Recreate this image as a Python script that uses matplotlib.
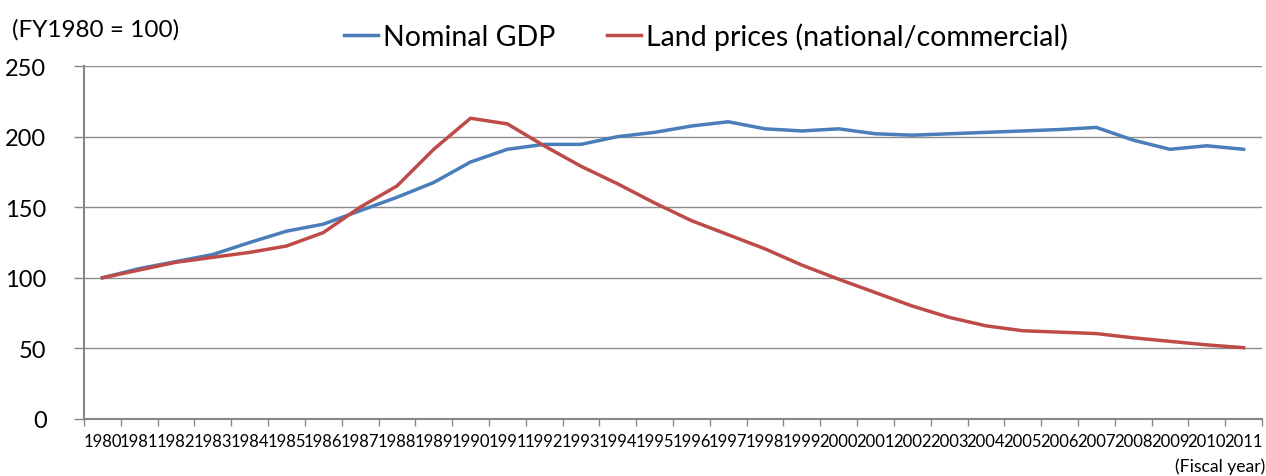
import numpy as np
import matplotlib
matplotlib.use('Agg')
import matplotlib.pyplot as plt
from matplotlib.ticker import FixedLocator

plt.rcParams['font.family'] = ['Lato', 'DejaVu Sans']

years = [str(y) for y in range(1980, 2012)]
gdp = [100, 106.5, 111.5, 116.5, 125, 133, 138, 147.5, 157, 167.5, 182, 191, 194.5, 194.5,
       200, 203, 207.5, 210.5, 205.5, 204, 205.5, 202, 201, 202, 203, 204, 205, 206.5,
       197.5, 191, 193.5, 191]
land = [100, 105.5, 111, 114.5, 118, 122.5, 132, 150, 165, 191, 213, 209, 193.5, 179,
        166.5, 153, 140.5, 130.5, 120.5, 109, 99, 89.5, 80, 72, 66, 62.5, 61.5, 60.5,
        57.5, 55, 52.5, 50.5]
yticks = [0, 50, 100, 150, 200, 250]

W, H = 1266, 477
fig = plt.figure(figsize=(W / 100, H / 100), dpi=100)
ax = fig.add_axes([84 / W, 57 / H, (1262 - 84) / W, 353 / H])

x = np.arange(len(years))
ax.plot(x, gdp, color='#4A7EBB', lw=2.5, label='Nominal GDP', solid_joinstyle='round')
ax.plot(x, land, color='#BE4B48', lw=2.5, label='Land prices (national/commercial)',
        solid_joinstyle='round')

ax.set_xlim(-0.5, len(years) - 0.5)
ax.set_ylim(0, 250)
ax.set_yticks(yticks)
ax.set_xticks(x)
ax.set_xticklabels(years, fontsize=12)
ax.xaxis.set_minor_locator(FixedLocator(np.arange(-0.5, len(years), 1.0)))
ax.tick_params(axis='x', which='major', length=0, pad=10)
ax.tick_params(axis='x', which='minor', length=5, color='#868686', width=1)
ax.tick_params(axis='y', length=7, color='#868686', width=1, labelsize=17, pad=20)

ax.grid(axis='y', color='#8C8C8C', lw=1)
ax.set_axisbelow(True)
for s in ['top', 'right']:
    ax.spines[s].set_visible(False)
for s in ['left', 'bottom']:
    ax.spines[s].set_color('#868686')
    ax.spines[s].set_linewidth(1.5)

fig.text(12 / W, 1 - 30 / H, '(FY1980 = 100)', fontsize=17.5, va='center', ha='left')
fig.text(1265 / W, 1 - 467 / H, '(Fiscal year)', fontsize=12.6, va='center', ha='right')

fig.legend(loc='center', bbox_to_anchor=(706 / W, 1 - 37 / H), ncol=2, frameon=False,
           fontsize=20.5, handlelength=1.2, handletextpad=0.18, columnspacing=1.8,
           borderpad=0, borderaxespad=0)

fig.savefig('out.png', dpi=100)
